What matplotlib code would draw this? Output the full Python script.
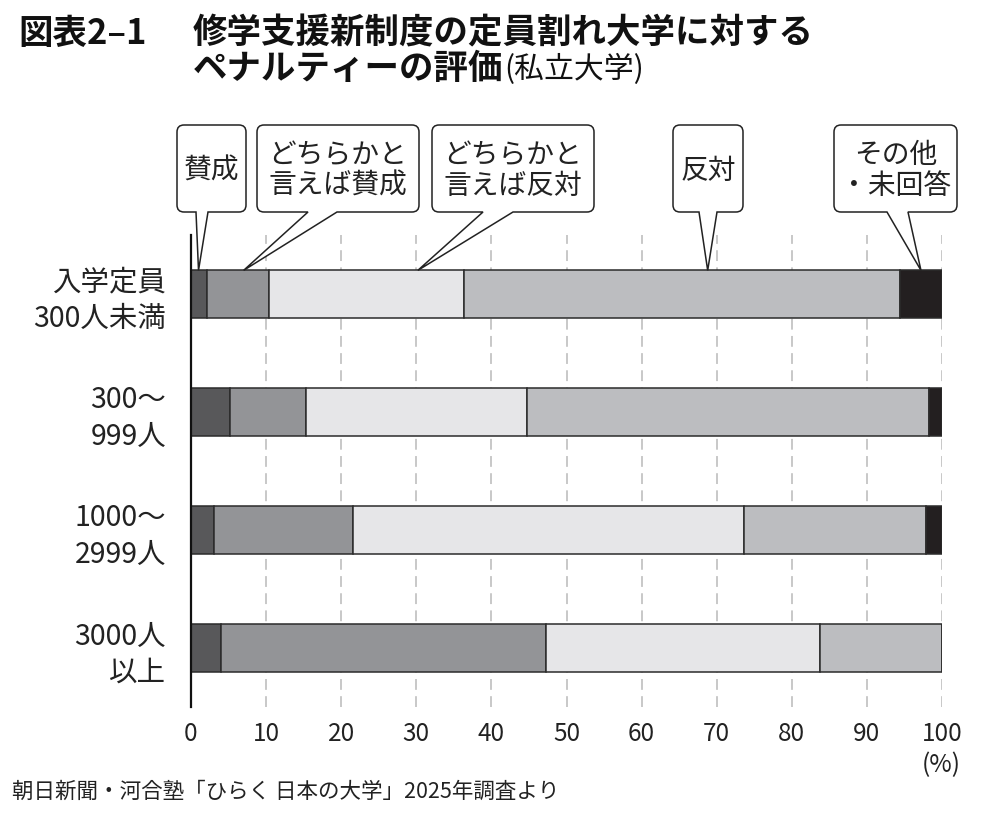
import matplotlib
matplotlib.use("Agg")
import matplotlib.pyplot as plt
from matplotlib.path import Path
from matplotlib.patches import PathPatch
from matplotlib.transforms import IdentityTransform
import numpy as np

plt.rcParams['font.family'] = ['Noto Sans CJK JP', 'DejaVu Sans']

# ---- data ----
categories = ['入学定員\n300人未満', '300〜\n999人', '1000〜\n2999人', '3000人\n以上']
series_names = ['賛成', 'どちらかと\n言えば賛成', 'どちらかと\n言えば反対', '反対', 'その他\n・未回答']
sansei = [2.1, 5.2, 3.0, 4.0]
yaya_sansei = [8.3, 10.1, 18.6, 43.3]
yaya_hantai = [26.0, 29.4, 52.1, 36.4]
hantai = [58.0, 53.6, 24.2, 16.3]
other = [5.6, 1.7, 2.1, 0.0]
colors = ['#58585a', '#939497', '#e6e6e8', '#bcbdc0', '#231f20']
xticks = [0, 10, 20, 30, 40, 50, 60, 70, 80, 90, 100]

W, H = 1000, 815
fig = plt.figure(figsize=(W / 100, H / 100), dpi=100)
fig.patch.set_facecolor('white')

def fx(px):
    return px / W

def fy(py):
    return 1 - py / H

ax = fig.add_axes([fx(191), fy(707), fx(942) - fx(191), fy(235) - fy(707)])
ax.set_xlim(0, 100)
ax.set_ylim(3.5, -0.5)

ypos = np.arange(len(categories))
left = np.zeros(len(categories))
for vals, c in zip([sansei, yaya_sansei, yaya_hantai, hantai, other], colors):
    v = np.array(vals)
    ax.barh(ypos, v, left=left, height=0.4, color=c, edgecolor='#2b2b2b',
            linewidth=1.1, zorder=3)
    left += v

for t in xticks[1:]:
    ax.axvline(t, color='#c4c4c4', linewidth=1.3, linestyle=(0, (6, 3.5)), zorder=1)

for s in ['top', 'right', 'bottom']:
    ax.spines[s].set_visible(False)
ax.spines['left'].set_linewidth(1.6)
ax.spines['left'].set_color('#111111')
ax.spines['left'].set_zorder(4)

ax.set_xticks(xticks)
ax.set_xticklabels([str(t) for t in xticks], fontsize=17.5, color='#222222')
ax.set_yticks(ypos)
ax.set_yticklabels(categories, fontsize=20.5, color='#222222', linespacing=1.27)
ax.tick_params(axis='x', length=0, pad=10)
ax.tick_params(axis='y', length=0, pad=18)

fig.text(fx(941), fy(765), '(%)', fontsize=17.5, ha='center', va='center', color='#222222')
fig.text(fx(12), fy(792), '朝日新聞・河合塾「ひらく 日本の大学」2025年調査より',
         fontsize=15.5, ha='left', va='center', color='#222222')

# ---- title ----
fig.text(fx(18), fy(33), '図表2–1', fontsize=24.8, fontweight='bold', ha='left', va='center', color='#111111')
fig.text(fx(193), fy(33), '修学支援新制度の定員割れ大学に対する', fontsize=24.8,
         fontweight='bold', ha='left', va='center', color='#111111')
t2 = fig.text(fx(193), fy(68), 'ペナルティーの評価', fontsize=24.8,
              fontweight='bold', ha='left', va='center', color='#111111')
renderer = fig.canvas.get_renderer()
bb = t2.get_window_extent(renderer)
fig.text((bb.x1 + 1) / W, fy(69), '(私立大学)', fontsize=21.5, ha='left', va='center', color='#111111')

# ---- callouts ----
callouts = [
    # label, box x0, x1, tail base x0, x1, tip value
    (series_names[0], 177, 246, 196, 208, 1.0),
    (series_names[1], 257, 419, 308, 337, 7.0),
    (series_names[2], 432, 594, 483, 513, 30.2),
    (series_names[3], 673, 743, 699, 717, 68.8),
    (series_names[4], 834, 957, 887, 908, 97.2),
]
box_top, box_bot = 125, 212
r = 7
for label, x0, x1, b0, b1, tipv in callouts:
    tx, ty = ax.transData.transform((tipv, -0.2))
    yt = H - box_top
    yb = H - box_bot
    verts = [
        (x0 + r, yt), (x1 - r, yt), (x1, yt), (x1, yt - r),
        (x1, yb + r), (x1, yb), (x1 - r, yb),
        (b1, yb), (tx, ty), (b0, yb),
        (x0 + r, yb), (x0, yb), (x0, yb + r),
        (x0, yt - r), (x0, yt), (x0 + r, yt),
        (x0 + r, yt),
    ]
    codes = [Path.MOVETO, Path.LINETO, Path.CURVE3, Path.CURVE3,
             Path.LINETO, Path.CURVE3, Path.CURVE3,
             Path.LINETO, Path.LINETO, Path.LINETO,
             Path.LINETO, Path.CURVE3, Path.CURVE3,
             Path.LINETO, Path.CURVE3, Path.CURVE3,
             Path.CLOSEPOLY]
    patch = PathPatch(Path(verts, codes), facecolor='white', edgecolor='#222222',
                      linewidth=1.1, transform=IdentityTransform(), zorder=10)
    fig.add_artist(patch)
    fig.text(fx((x0 + x1) / 2), fy((box_top + box_bot) / 2 + 2), label, fontsize=20,
             ha='center', va='center', color='#222222', linespacing=1.05, zorder=11)

fig.savefig('out.png', dpi=100)
